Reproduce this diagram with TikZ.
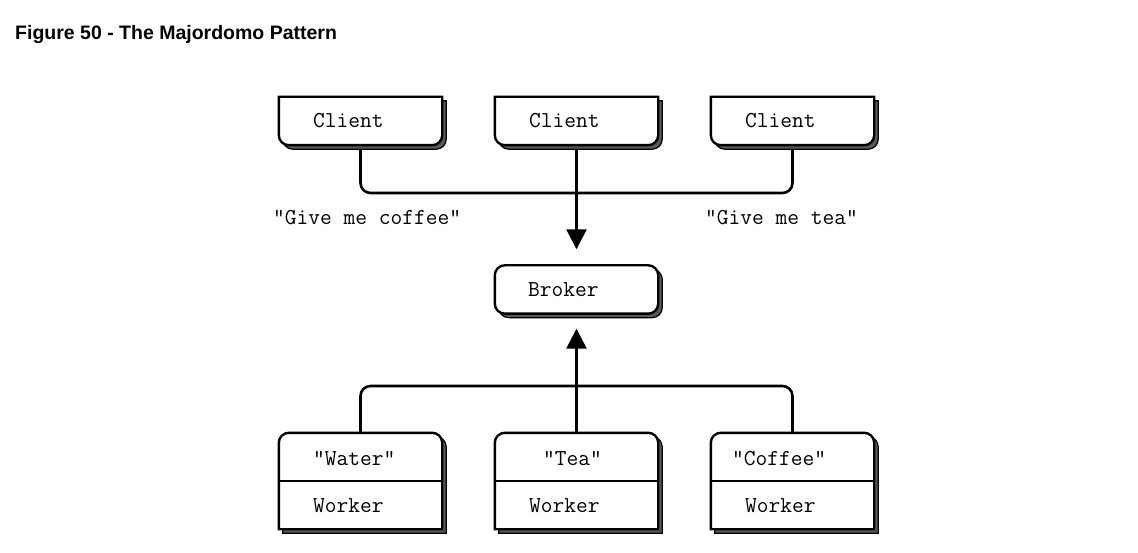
\documentclass[tikz,border=0pt]{standalone}
\usepackage{fontspec}
\setmainfont{Liberation Sans}
\newfontfamily\mono{Latin Modern Mono}
\usetikzlibrary{arrows.meta}

\tikzset{
  caja/.style={minimum width=163pt, minimum height=48pt, inner sep=0pt},
  sombra/.style={fill=black!65, draw=black, line width=1.2pt, transform canvas={xshift=4pt, yshift=-4pt}},
  borde/.style={fill=white, draw=black, line width=2.4pt},
  texto/.style={font=\mono\fontsize{22.8}{24}\selectfont, anchor=base west, inner sep=0pt},
  conector/.style={line width=2.6pt, rounded corners=10pt},
  flecha/.style={line width=2.6pt, -{Triangle[width=20pt,length=20pt]}},
}

\begin{document}
\begin{tikzpicture}[x=1pt, y=-1pt]
        \useasboundingbox (0,0) rectangle (1138,553);
        % Titulo
        \node[font=\bfseries\fontsize{19.5}{22}\selectfont, anchor=base west, inner sep=0pt] (titulo) at (15,40) {Figure 50 - The Majordomo Pattern};
        % Cajas (sin borde, solo posiciones)
        \node[caja] (c1) at (360.5,121) {};
        \node[caja] (c2) at (576.5,121) {};
        \node[caja] (c3) at (792.5,121) {};
        \node[caja] (br) at (576.5,289.5) {};
        \node[caja] (wt1) at (360.5,457) {};
        \node[caja] (wt2) at (576.5,457) {};
        \node[caja] (wt3) at (792.5,457) {};
        \node[caja] (wb1) at (360.5,505) {};
        \node[caja] (wb2) at (576.5,505) {};
        \node[caja] (wb3) at (792.5,505) {};
        \coordinate (cbus) at (576.5,193);
        \coordinate (wbus) at (576.5,386);
        % Conectores
        \draw[conector] (c1.south) |- (cbus) -| (c3.south);
        \draw[flecha, shorten >=16pt] (c2.south) -- (br.north);
        \draw[conector] (wt1.north) |- (wbus) -| (wt3.north);
        \draw[flecha, shorten >=15pt] (wt2.north) -- (br.south);
        % Clientes: esquinas inferiores redondeadas
        \foreach \n in {c1,c2,c3} {
          \draw[sombra] (\n.north west) -- (\n.north east) [rounded corners=10pt] -- (\n.south east) -- (\n.south west) [sharp corners] -- cycle;
          \draw[borde] (\n.north west) -- (\n.north east) [rounded corners=10pt] -- (\n.south east) -- (\n.south west) [sharp corners] -- cycle;
        }
        % Broker
        \draw[sombra, rounded corners=10pt] (br.north west) rectangle (br.south east);
        \draw[borde, rounded corners=10pt] (br.north west) rectangle (br.south east);
        % Workers: esquinas superiores redondeadas
        \foreach \t/\b in {wt1/wb1,wt2/wb2,wt3/wb3} {
          \draw[sombra] (\b.south east) -- (\b.south west) [rounded corners=10pt] -- (\t.north west) -- (\t.north east) [sharp corners] -- cycle;
          \draw[borde] (\b.south east) -- (\b.south west) [rounded corners=10pt] -- (\t.north west) -- (\t.north east) [sharp corners] -- cycle;
          \draw[line width=2.4pt] (\t.south west) -- (\t.south east);
        }
        % Textos
        \node[texto] (tc1) at (313,128) {Client};
        \node[texto] (tc2) at (529,128) {Client};
        \node[texto] (tc3) at (745,128) {Client};
        \node[texto] (tcoffee) at (273,225) {"Give me coffee"};
        \node[texto] (ttea) at (705,225) {"Give me tea"};
        \node[texto] (tbr) at (528,297) {Broker};
        \node[texto] (twater) at (313,465) {"Water"};
        \node[texto] (tteaw) at (543,465) {"Tea"};
        \node[texto] (tcof) at (732,465) {"Coffee"};
        \node[texto] (tw1) at (313,512) {Worker};
        \node[texto] (tw2) at (529,512) {Worker};
        \node[texto] (tw3) at (745,512) {Worker};
    \end{tikzpicture}
\end{document}
